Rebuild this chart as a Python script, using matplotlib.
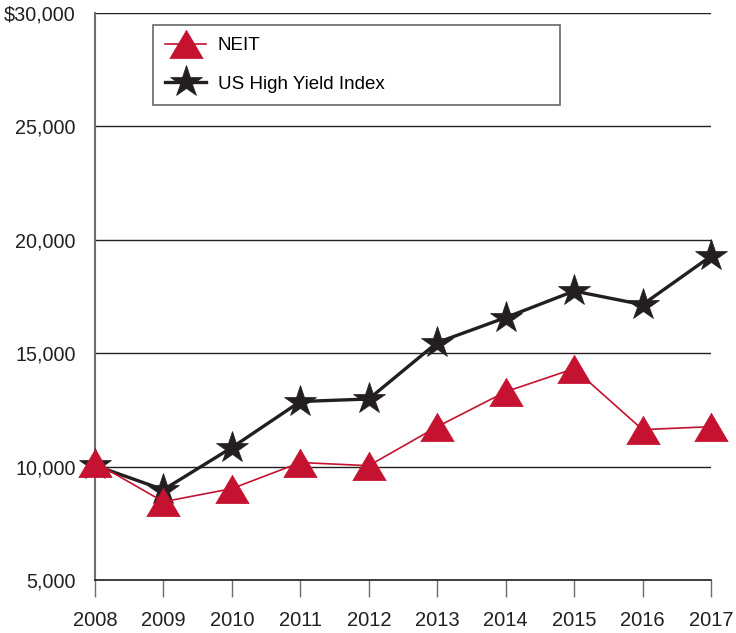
import matplotlib
matplotlib.use("Agg")
import matplotlib.pyplot as plt
from matplotlib.path import Path
from matplotlib.ticker import FuncFormatter

plt.rcParams['font.family'] = ['Liberation Sans', 'DejaVu Sans']

years = [2008, 2009, 2010, 2011, 2012, 2013, 2014, 2015, 2016, 2017]
neit = [10180, 8450, 9030, 10180, 10040, 11760, 13300, 14320, 11630, 11760]
us_hy = [10050, 8980, 10840, 12870, 12980, 15470, 16570, 17740, 17140, 19280]
y_ticks = [5000, 10000, 15000, 20000, 25000, 30000]

red = '#C41230'
black = '#231F20'

fig = plt.figure(figsize=(7.36, 6.33), dpi=100)
ax = fig.add_axes([95/736, 1 - 580/633, 616/736, 567/633])

tri = Path([(0, 0.85), (-1, -0.85), (1, -0.85), (0, 0.85)],
           [Path.MOVETO, Path.LINETO, Path.LINETO, Path.CLOSEPOLY])

ax.plot(years, us_hy, color=black, lw=2.4, marker='*', ms=24,
        mec=black, mew=0.5, label='US High Yield Index', zorder=3, clip_on=False)
ax.plot(years, neit, color=red, lw=1.2, marker=tri, ms=24,
        mec=red, mew=0.5, label='NEIT', zorder=4, clip_on=False)

ax.set_xlim(2008, 2017)
ax.set_ylim(5000, 30000)
ax.set_yticks(y_ticks)
ax.yaxis.set_major_formatter(FuncFormatter(
    lambda v, p: ('$' if v == 30000 else '') + f'{int(v):,}'))
ax.set_xticks(years)
ax.set_xticklabels([str(y) for y in years])

for s in ['top', 'right']:
    ax.spines[s].set_visible(False)
ax.spines['left'].set_color('#6d6e71')
ax.spines['left'].set_linewidth(1.5)
ax.spines['bottom'].set_color(black)
ax.spines['bottom'].set_linewidth(1.2)
ax.spines['left'].set_bounds(5000, 30000)

ax.grid(axis='y', color=black, lw=1.0)
ax.set_axisbelow(True)
ax.tick_params(axis='y', length=0, pad=14, labelsize=14.2, colors=black)
ax.tick_params(axis='x', length=12, width=1.0, color='#6d6e71', pad=10,
               labelsize=14.5, labelcolor=black, direction='out')

h, l = ax.get_legend_handles_labels()
leg = ax.legend(h[::-1], l[::-1], loc='upper left',
                bbox_to_anchor=(0.094, 0.979, 0.661, 0.0), mode='expand',
                frameon=True, fancybox=False, fontsize=13.5, handlelength=2.2,
                labelspacing=1.15, borderpad=0.65, handletextpad=0.6,
                borderaxespad=0)
leg.get_frame().set_edgecolor('#414042')
leg.get_frame().set_linewidth(1.2)
leg.set_zorder(2)

fig.savefig('out.png', dpi=100)
